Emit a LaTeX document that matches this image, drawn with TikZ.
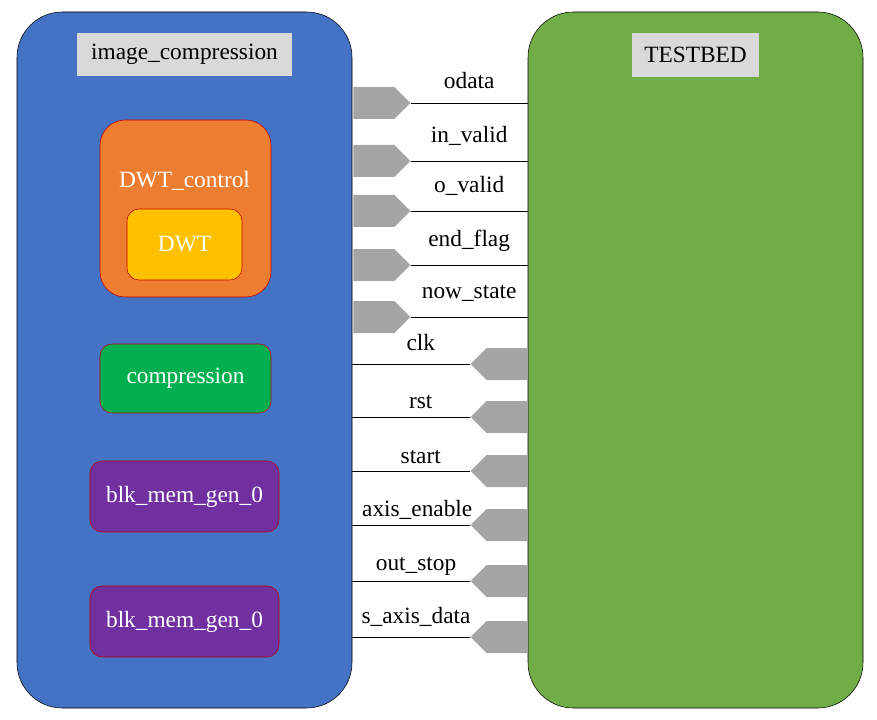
\documentclass[tikz,border=0pt]{standalone}
\usepackage{fontspec}
\setmainfont{Liberation Serif}
\usetikzlibrary{shapes.symbols, positioning}

\definecolor{modblue}{HTML}{4472C4}
\definecolor{modgreen}{HTML}{70AD47}
\definecolor{titlegray}{HTML}{D9D9D9}
\definecolor{portgray}{HTML}{A5A5A5}
\definecolor{ctrlorange}{HTML}{ED7D31}
\definecolor{dwtgold}{HTML}{FFC000}
\definecolor{compgreen}{HTML}{00B050}
\definecolor{mempurple}{HTML}{7030A0}
\definecolor{subred}{HTML}{C00000}

\tikzset{
	module/.style={draw=black, rounded corners=34pt, minimum width=251.25pt, minimum height=522pt, inner sep=0},
	title/.style={fill=titlegray, inner sep=0, minimum height=32.5pt},
	sub/.style={draw=subred, text=white, inner sep=0},
	outport/.style={signal, signal to=east, fill=portgray, minimum width=42.75pt, minimum height=24pt, inner sep=0, anchor=west},
	inport/.style={signal, signal to=west, fill=portgray, minimum width=42.75pt, minimum height=24pt, inner sep=0, anchor=east},
	sig/.style={anchor=base}
}

\begin{document}
\begin{tikzpicture}[x=0.75pt, y=-0.75pt, font=\fontsize{17.5}{21}\selectfont]
	\useasboundingbox (0,0) rectangle (877,720);

	% the two blocks
	\node[module, fill=modblue] (ic) at (184.5,360) {};
	\node[module, fill=modgreen] (tb) at (695.5,360) {};
	\node[title, minimum width=161.25pt] (ictitle) at (184.5,54.5) {image\_compression};
	\node[title, minimum width=95.25pt] (tbtitle) at (695.5,55) {TESTBED};

	% inside image_compression
	\node[sub, fill=ctrlorange, rounded corners=19pt, minimum width=128.25pt, minimum height=132.75pt] (ctrl) at (185.5,208.5) {};
	\node[text=white] (ctrltext) at (184.5,181) {DWT\_control};
	\node[sub, fill=dwtgold, rounded corners=9pt, minimum width=86.25pt, minimum height=53.25pt] (dwt) at (184.5,244.5) {DWT};
	\node[sub, fill=compgreen, rounded corners=9pt, minimum width=128.25pt, minimum height=51.75pt] (comp) at (185.5,378.5) {compression};
	\node[sub, fill=mempurple, rounded corners=9pt, minimum width=141.75pt, minimum height=53.25pt] (mem1) at (184.5,496.5) {blk\_mem\_gen\_0};
	\node[sub, fill=mempurple, rounded corners=9pt, minimum width=141.75pt, minimum height=53.25pt] (mem2) at (184.5,621.5) {blk\_mem\_gen\_0};

	% ports
	\node[outport] (odata) at (353,103) {};
	\node[outport] (invalid) at (353,161) {};
	\node[outport] (ovalid) at (353,211) {};
	\node[outport] (endflag) at (353,265) {};
	\node[outport] (nowstate) at (353,317) {};
	\node[inport] (clk) at (528,364) {};
	\node[inport] (rst) at (528,417) {};
	\node[inport] (start) at (528,471) {};
	\node[inport] (axisen) at (528,525) {};
	\node[inport] (outstop) at (528,581) {};
	\node[inport] (saxis) at (528,637) {};

	\draw[thin]
		(odata.east) -- node[sig, yshift=10.5pt]{odata} (odata.east -| tb.west)
		(invalid.east) -- node[sig, yshift=13.5pt]{in\_valid} (invalid.east -| tb.west)
		(ovalid.east) -- node[sig, yshift=13.5pt]{o\_valid} (ovalid.east -| tb.west)
		(endflag.east) -- node[sig, yshift=13.5pt]{end\_flag} (endflag.east -| tb.west)
		(nowstate.east) -- node[sig, yshift=14pt]{now\_state} (nowstate.east -| tb.west)

		(clk.west) -- node[sig, pos=0.42, yshift=10.5pt]{clk} (clk.west -| ic.east)
		(rst.west) -- node[sig, pos=0.42, yshift=6.75pt]{rst} (rst.west -| ic.east)
		(start.west) -- node[sig, pos=0.42, yshift=6pt]{start} (start.west -| ic.east)
		(axisen.west) -- node[sig, pos=0.45, yshift=6.75pt]{axis\_enable} (axisen.west -| ic.east)
		(outstop.west) -- node[sig, pos=0.46, yshift=8.25pt]{out\_stop} (outstop.west -| ic.east)
		(saxis.west) -- node[sig, pos=0.46, yshift=10.5pt]{s\_axis\_data} (saxis.west -| ic.east)
		;
\end{tikzpicture}
\end{document}
